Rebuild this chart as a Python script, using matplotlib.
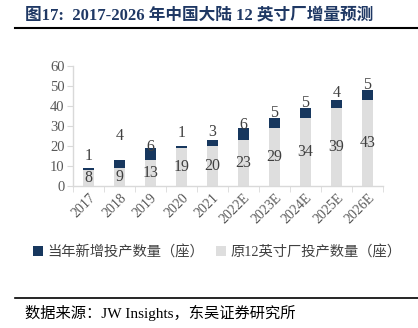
import matplotlib
matplotlib.use("Agg")
import matplotlib.pyplot as plt
from matplotlib.patches import Patch

plt.rcParams['font.family'] = ['Liberation Serif', 'Noto Sans CJK SC', 'DejaVu Sans']

years = ["2017", "2018", "2019", "2020", "2021", "2022E", "2023E", "2024E", "2025E", "2026E"]
existing = [8, 9, 13, 19, 20, 23, 29, 34, 39, 43]
new_added = [1, 4, 6, 1, 3, 6, 5, 5, 4, 5]
yticks = [0, 10, 20, 30, 40, 50, 60]

# vertical gap (points) between each stack top and its "new" label
top_label_gap = [8.5, 17, 1, 9, 5.5, 2, 3.5, 3.5, 5, 3.5]

navy = "#17375E"
light = "#DEDEDE"
txt = "#404040"
axis_col = "#D9D9D9"

W, H = 418, 328
fig = plt.figure(figsize=(W / 100, H / 100), dpi=100)
ax = fig.add_axes([73 / W, 1 - 186 / H, 310 / W, 120 / H])

x = list(range(len(years)))
bw = 0.34
ax.bar(x, existing, width=bw, color=light, zorder=2)
ax.bar(x, new_added, width=bw, bottom=existing, color=navy, zorder=2)

for i in x:
    ax.text(i, existing[i] / 2, str(existing[i]), ha='center', va='center',
            fontsize=11.5, color=txt, zorder=3)
    ax.annotate(str(new_added[i]), xy=(i, existing[i] + new_added[i]),
                xytext=(0, top_label_gap[i]), textcoords='offset points',
                ha='center', va='center', fontsize=11.5, color=txt, zorder=3)

ax.set_xlim(-0.5, len(years) - 0.5)
ax.set_ylim(0, 60)
ax.set_yticks(yticks)
ax.set_yticklabels([str(v) for v in yticks], fontsize=10.5, color="#595959")
ax.set_xticks(x)
ax.set_xticklabels(years, rotation=45, ha='right', rotation_mode='anchor',
                   fontsize=10, color="#595959")
ax.tick_params(axis='x', length=0, pad=4)
ax.set_xticks([i - 0.5 for i in range(len(years) + 1)], minor=True)
ax.tick_params(axis='x', which='minor', length=4, color=axis_col)
ax.tick_params(axis='y', length=4, color=axis_col, pad=2)
for s in ['top', 'right']:
    ax.spines[s].set_visible(False)
for s in ['left', 'bottom']:
    ax.spines[s].set_color(axis_col)
    ax.spines[s].set_linewidth(1.0)

handles = [Patch(facecolor=navy, label="当年新增投产数量（座）"),
           Patch(facecolor=light, label="原12英寸厂投产数量（座）")]
leg = fig.legend(handles=handles, loc='center', bbox_to_anchor=(0.52, 1 - 252 / H),
                 ncol=2, frameon=False, handlelength=0.7,
                 handleheight=0.7, handletextpad=0.3, columnspacing=0.8,
                 prop={'family': ['Liberation Serif', 'Noto Sans CJK SC'], 'size': 10.3})
for t in leg.get_texts():
    t.set_color(txt)

fig.text(25 / W, 1 - 15 / H, "图17:  2017-2026 年中国大陆 12 英寸厂增量预测",
         ha='left', va='center', fontsize=12, fontweight='bold', color="#1F3864",
         family=['Liberation Serif', 'Noto Sans CJK SC'])
fig.add_artist(plt.Line2D([15 / W, 1], [1 - 28 / H, 1 - 28 / H], color='black', lw=1.5))
fig.add_artist(plt.Line2D([15 / W, 1], [1 - 298 / H, 1 - 298 / H], color='black', lw=1.2))
fig.text(25 / W, 1 - 313 / H, "数据来源：JW Insights，东吴证券研究所", ha='left', va='center',
         fontsize=11, color="black", family=['Liberation Serif', 'Noto Sans CJK SC'])

fig.savefig("out.png", dpi=100)
